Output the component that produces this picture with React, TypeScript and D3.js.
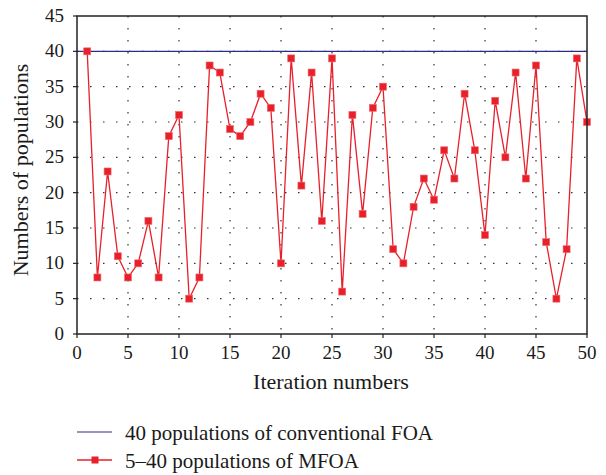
import React from "react";
import * as d3 from "d3";

const iterations = d3.range(1, 51);
const mfoa = [40, 8, 23, 11, 8, 10, 16, 8, 28, 31, 5, 8, 38, 37, 29, 28, 30, 34, 32, 10, 39, 21, 37, 16, 39, 6, 31, 17, 32, 35, 12, 10, 18, 22, 19, 26, 22, 34, 26, 14, 33, 25, 37, 22, 38, 13, 5, 12, 39, 30];
const conventional = 40;
const xTicks = [0, 5, 10, 15, 20, 25, 30, 35, 40, 45, 50];
const yTicks = [0, 5, 10, 15, 20, 25, 30, 35, 40, 45];
const legendLabels = ["40 populations of conventional FOA", "5\u201340 populations of MFOA"];

const W = 606, H = 475;
const left = 77, right = 587, top = 16, bottom = 334;
const font = "Liberation Serif, DejaVu Serif, serif";
const red = "#e8202a";
const blue = "#2c2c86";
const ink = "#1a1a1a";

export default function App() {
  const x = d3.scaleLinear().domain([0, 50]).range([left, right]);
  const y = d3.scaleLinear().domain([0, 45]).range([bottom, top]);
  const line = d3.line<number>().x((_, i) => x(iterations[i])).y((d) => y(d));
  const ms = 7;
  const tf = { fontFamily: font };
  return (
    <svg width={W} height={H} style={{ position: "absolute", left: 0, top: 0, fontFamily: font }}>
      <rect width={W} height={H} fill="#fff" />
      {xTicks.slice(1, -1).map((t) => (
        <line key={"gx" + t} x1={x(t)} x2={x(t)} y1={top} y2={bottom} stroke="#333" strokeWidth={1.2} strokeDasharray="1.5 10.5" />
      ))}
      {yTicks.slice(1, -1).map((t) => (
        <line key={"gy" + t} x1={left} x2={right} y1={y(t)} y2={y(t)} stroke="#333" strokeWidth={1.2} strokeDasharray="1.5 11.5" />
      ))}
      <line x1={left} x2={right} y1={y(conventional)} y2={y(conventional)} stroke={blue} strokeWidth={1.2} />
      <path d={line(mfoa) || ""} fill="none" stroke={red} strokeWidth={1.3} />
      {mfoa.map((v, i) => (
        <rect key={i} x={x(iterations[i]) - ms / 2} y={y(v) - ms / 2} width={ms} height={ms} fill={red} stroke="#f06a6f" strokeWidth={0.6} />
      ))}
      <rect x={left} y={top} width={right - left} height={bottom - top} fill="none" stroke="#222" strokeWidth={1.5} />
      {xTicks.map((t) => (
        <g key={"xt" + t}>
          <line x1={x(t)} x2={x(t)} y1={bottom} y2={bottom + 4} stroke="#222" strokeWidth={1.2} />
          <text x={x(t)} y={359} textAnchor="middle" fontSize={19} fill={ink} style={tf}>{t}</text>
        </g>
      ))}
      {yTicks.map((t) => (
        <g key={"yt" + t}>
          <line x1={left - 4} x2={left} y1={y(t)} y2={y(t)} stroke="#222" strokeWidth={1.2} />
          <text x={left - 13} y={y(t) + 6} textAnchor="end" fontSize={19} fill={ink} style={tf}>{t}</text>
        </g>
      ))}
      <text x={331} y={389} textAnchor="middle" fontSize={22} fill={ink} style={tf}>Iteration numbers</text>
      <text transform="translate(28,170) rotate(-90)" textAnchor="middle" fontSize={22} fill={ink} style={tf}>Numbers of populations</text>
      <line x1={77} x2={112} y1={432} y2={432} stroke={blue} strokeWidth={1.2} />
      <text x={125} y={440} fontSize={21} fill={ink} style={tf}>{legendLabels[0]}</text>
      <line x1={77} x2={112} y1={460} y2={460} stroke={red} strokeWidth={1.3} />
      <rect x={95 - 3.5} y={460 - 3.5} width={7} height={7} fill={red} />
      <text x={125} y={468} fontSize={21} fill={ink} style={tf}>{legendLabels[1]}</text>
    </svg>
  );
}
